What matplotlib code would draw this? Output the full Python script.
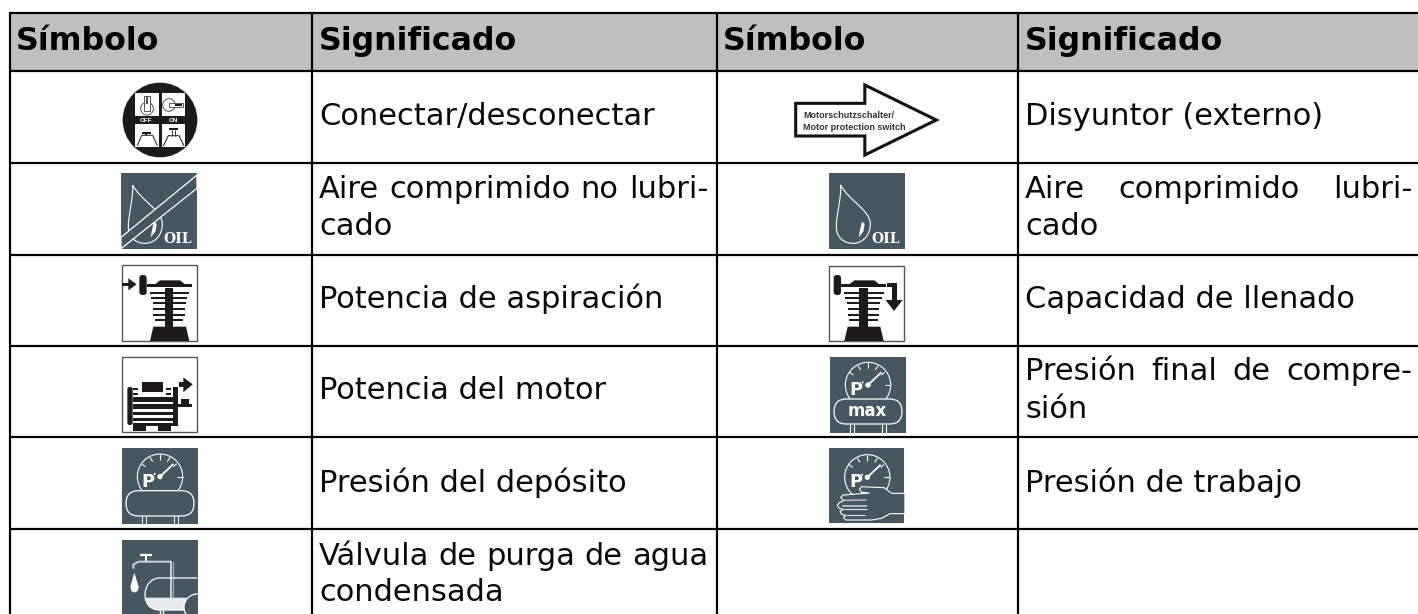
import matplotlib
matplotlib.use("Agg")
import matplotlib.pyplot as plt
from matplotlib.patches import Polygon, Rectangle, Circle, PathPatch, FancyBboxPatch
from matplotlib.path import Path
from matplotlib.transforms import Affine2D

# ---- content ----
headers = ["Símbolo", "Significado", "Símbolo", "Significado"]
col2_rows = [
    ["Conectar/desconectar"],
    ["Aire comprimido no lubri-", "cado"],
    ["Potencia de aspiración"],
    ["Potencia del motor"],
    ["Presión del depósito"],
    ["Válvula de purga de agua", "condensada"],
]
col4_rows = [
    ["Disyuntor (externo)"],
    ["Aire comprimido lubri-", "cado"],
    ["Capacidad de llenado"],
    ["Presión final de compre-", "sión"],
    ["Presión de trabajo"],
    [],
]
arrow_lines = ["Motorschutzschalter/", "Motor protection switch"]

# ---- layout (pixels) ----
W, H = 1418, 614
col_lines = [10, 311.5, 717, 1018]
row_lines = [13, 70.5, 163, 254.7, 345.8, 437.3, 529]
hdr_x = [16, 319, 723, 1025]
hdr_base = 50
base_y = [[125], [198, 235], [308], [399], [491.5], [565, 601]]
base_y4 = [[125], [198, 235], [308], [380, 418], [491.5], []]
just_right = [708, 1412]
SLATE = "#465762"
HEAD = "#BFBFBF"
DARK = "#1c1a1b"
FS, FSH = 22.0, 22.8

fig = plt.figure(figsize=(W / 100, H / 100), dpi=100)
ax = fig.add_axes([0, 0, 1, 1])
ax.set_xlim(0, W)
ax.set_ylim(H, 0)
ax.axis("off")
LW = 2.2 * 0.72


def T(ox, oy, sx=3.0, sy=3.0):
    return Affine2D().scale(1 / sx, 1 / sy).translate(ox, oy) + ax.transData


def poly(tr, pts, fc="none", ec="none", lw=0.0, z=3):
    ax.add_patch(Polygon(pts, closed=True, fc=fc, ec=ec, lw=lw, transform=tr, zorder=z))


def rect(tr, x0, y0, x1, y1, fc=DARK, ec="none", lw=0.0, z=3):
    p = Rectangle((x0, y0), x1 - x0, y1 - y0, fc=fc, ec=ec, lw=lw, transform=tr, zorder=z)
    ax.add_patch(p)
    return p


def line(tr, xs, ys, c="white", lw=0.8, z=4):
    ax.plot(xs, ys, color=c, lw=lw, transform=tr, zorder=z, solid_capstyle="butt")


def circ(tr, x, y, r, fc="none", ec="white", lw=0.8, z=4):
    p = Circle((x, y), r, fc=fc, ec=ec, lw=lw, transform=tr, zorder=z)
    ax.add_patch(p)
    return p


def txt(tr, x, y, s, size, color="white", weight="bold", fam="DejaVu Sans", ha="center", z=6):
    ax.text(x, y, s, transform=tr, fontsize=size, color=color, fontweight=weight,
            family=fam, ha=ha, va="baseline", zorder=z)


def rounded(tr, x0, y0, x1, y1, r, fc=DARK, ec="none", lw=0.0, z=3):
    ax.add_patch(FancyBboxPatch((x0, y0), x1 - x0, y1 - y0, boxstyle=f"round,pad=0,rounding_size={r}",
                                fc=fc, ec=ec, lw=lw, transform=tr, zorder=z))


# ---- table ----
ax.add_patch(Rectangle((col_lines[0], row_lines[0]), W - col_lines[0], row_lines[1] - row_lines[0],
                       fc=HEAD, ec="none", zorder=1))
for y in row_lines:
    ax.plot([col_lines[0] - 1, W], [y, y], color="black", lw=LW, zorder=2, solid_capstyle="butt")
for x in col_lines:
    ax.plot([x, x], [row_lines[0] - 1, H], color="black", lw=LW, zorder=2, solid_capstyle="butt")

for x, s in zip(hdr_x, headers):
    ax.text(x, hdr_base, s, fontsize=FSH, fontweight="bold", family="DejaVu Sans",
            ha="left", va="baseline", color="black")

fig.canvas.draw()
rend = fig.canvas.get_renderer()


def text_width(s):
    t = ax.text(0, 0, s, fontsize=FS, family="DejaVu Sans")
    w = t.get_window_extent(rend).width
    t.remove()
    return w


def put_lines(x, right, lines, bases):
    for i, (s, y) in enumerate(zip(lines, bases)):
        words = s.split(" ")
        if len(lines) > 1 and i == 0 and len(words) > 1:
            widths = [text_width(w) for w in words]
            gap = (right - x - sum(widths)) / (len(words) - 1)
            cx = x
            for w, wd in zip(words, widths):
                ax.text(cx, y, w, fontsize=FS, family="DejaVu Sans", ha="left", va="baseline", color="#0a0a0a")
                cx += wd + gap
        else:
            ax.text(x, y, s, fontsize=FS, family="DejaVu Sans", ha="left", va="baseline", color="#0a0a0a")


for lines, bases in zip(col2_rows, base_y):
    put_lines(hdr_x[1], just_right[0], lines, bases)
for lines, bases in zip(col4_rows, base_y4):
    put_lines(hdr_x[3], just_right[1], lines, bases)


# ---- icons ----
def icon_switch():
    tr = T(0, 0)
    circ(tr, 480, 360, 112, fc=DARK, ec="none", lw=0, z=3)
    for x0, y0, x1, y1 in [(406, 279, 476, 349), (485, 279, 555, 349), (406, 373, 476, 441), (485, 373, 555, 441)]:
        rect(tr, x0, y0, x1, y1, fc="white", z=4)
    G = "#555555"
    circ(tr, 441, 326, 19, ec=G, lw=0.7, z=5)
    rect(tr, 433, 287, 449, 332, fc="white", ec=G, lw=0.7, z=6)
    rect(tr, 437, 291, 445, 312, fc=G, z=7)
    circ(tr, 507, 315, 19, ec=G, lw=0.7, z=5)
    rect(tr, 507, 308, 549, 322, fc="white", ec=G, lw=0.7, z=6)
    rect(tr, 525, 311, 546, 318, fc=DARK, z=7)
    rect(tr, 425, 397, 452, 402, fc=DARK, z=5)
    rect(tr, 436, 402, 441, 406, fc=DARK, z=5)
    line(tr, [412, 425, 458, 472], [437, 406, 406, 437], c="#333333", lw=0.8, z=5)
    rect(tr, 507, 384, 534, 389, fc=DARK, z=5)
    line(tr, [515, 515], [389, 407], c="#333333", lw=0.7, z=5)
    line(tr, [526, 526], [389, 407], c="#333333", lw=0.7, z=5)
    line(tr, [490, 505, 537, 552], [438, 407, 407, 438], c="#333333", lw=0.8, z=5)
    txt(tr, 437, 367, "OFF", 4.6, fam="Liberation Sans")
    txt(tr, 519, 367, "ON", 4.6, fam="Liberation Sans")


DROP = Path(
    [(398, 555), (400, 600), (385, 640), (385, 680), (385, 715), (410, 730), (435, 730),
     (465, 730), (487, 705), (487, 672), (487, 630), (420, 600), (398, 555)],
    [Path.MOVETO] + [Path.CURVE4] * 12,
)


def oil_drop(tr):
    ax.add_patch(PathPatch(DROP, fc="none", ec="white", lw=0.8, transform=tr, zorder=4))
    poly(tr, [(462, 665), (456, 690), (452, 712), (466, 695), (470, 672)], fc="white", z=4)
    txt(tr, 533, 728, "OIL", 10, fam="DejaVu Serif")


def icon_oil_no():
    tr = T(0, 0)
    rect(tr, 363, 519, 591, 747, fc=SLATE)
    oil_drop(tr)
    poly(tr, [(363, 712), (591, 525), (591, 565), (363, 746)], fc=SLATE, ec="white", lw=0.9, z=5)
    rect(tr, 592, 515, 598, 750, fc="white", z=5)


def icon_oil():
    tr = T(708, 0)
    rect(tr, 363, 519, 591, 747, fc=SLATE)
    oil_drop(tr)


def piston(tr, dx):
    rounded(tr, 88 + dx, 60, 110 + dx, 120, 9)
    rect(tr, 110 + dx, 87, 245 + dx, 96, fc=DARK)
    poly(tr, [(135 + dx, 88), (150 + dx, 76), (210 + dx, 76), (225 + dx, 88)], fc=DARK)
    for y, a, b in [(113, 120, 238), (128, 122, 232), (145, 128, 228), (162, 130, 225), (179, 130, 225), (196, 135, 220)]:
        rect(tr, a + dx, y - 3, b + dx, y + 3, fc=DARK)
    rect(tr, 165 + dx, 100, 190 + dx, 220, fc=DARK)
    poly(tr, [(120 + dx, 258), (130 + dx, 215), (228 + dx, 215), (238 + dx, 258)], fc=DARK)


def icon_suction():
    tr = T(110, 255)
    rect(tr, 37, 30, 262, 258, fc="white", ec="#555555", lw=1.0, z=2.5)
    piston(tr, 0)
    rect(tr, 37, 83, 58, 93, fc=DARK)
    poly(tr, [(55, 70), (80, 88), (55, 106)], fc=DARK)


def icon_fill():
    tr = T(810, 255)
    rect(tr, 58, 33, 282, 258, fc="white", ec="#555555", lw=1.0, z=2.5)
    piston(tr, -17)
    rect(tr, 232, 85, 261, 95, fc=DARK)
    rect(tr, 245, 85, 261, 137, fc=DARK)
    poly(tr, [(227, 135), (278, 135), (252, 168)], fc=DARK)


def icon_motor():
    tr = T(110, 345)
    rect(tr, 37, 37, 262, 260, fc="white", ec="#555555", lw=1.0, z=2.5)
    rounded(tr, 52, 126, 68, 240, 7)
    rect(tr, 97, 112, 158, 140)
    for a, b in [(128, 135), (143, 150)]:
        rect(tr, 70, a, 84, b)
        rect(tr, 168, a, 182, b)
    for a, b in [(155, 170), (178, 193), (201, 211), (219, 228), (235, 242)]:
        rect(tr, 68, a, 192, b)
    rect(tr, 189, 126, 203, 242)
    rect(tr, 203, 176, 247, 187)
    rect(tr, 212, 163, 236, 177)
    rect(tr, 207, 110, 222, 125)
    poly(tr, [(220, 97), (248, 118), (220, 142)], fc=DARK)
    rect(tr, 70, 243, 108, 258)
    rect(tr, 143, 243, 182, 258)


def gauge(tr, cx, cy, px=-35, py=30):
    circ(tr, cx, cy, 68, z=4)
    for (a, b, c, d) in [(0, -68, 0, -50), (-30, -58, -22, -45), (30, -58, 22, -45),
                         (-55, -38, -44, -30), (50, -38, 40, -30), (68, 0, 50, 0)]:
        line(tr, [cx + a, cx + c], [cy + b, cy + d])
    line(tr, [cx, cx + 40], [cy, cy - 38], lw=1.3)
    circ(tr, cx, cy, 8, fc="white", ec="none", lw=0, z=5)
    circ(tr, cx - 16, cy - 8, 3, fc="white", ec="none", lw=0, z=5)
    txt(tr, cx + px, cy + py, "P", 13)


def stadium(tr, x0, y0, x1, y1, z=5):
    rounded(tr, x0, y0, x1, y1, (y1 - y0) / 2, fc=SLATE, ec="white", lw=0.9, z=z)


def legs(tr, top, bottom):
    for x in [425, 437, 523, 535]:
        line(tr, [x, x], [top, bottom])


def icon_tank():
    tr = T(0, 300)
    rect(tr, 366, 444, 594, 672, fc=SLATE)
    gauge(tr, 480, 530)
    stadium(tr, 378, 572, 582, 648)
    legs(tr, 648, 672)


def icon_max():
    tr = T(708, 209)
    rect(tr, 366, 444, 594, 672, fc=SLATE)
    gauge(tr, 480, 528)
    stadium(tr, 378, 570, 582, 645)
    legs(tr, 645, 672)
    txt(tr, 478, 621, "max", 12)


def icon_hand():
    tr = T(810, 440)
    rect(tr, 57, 25, 283, 250, fc=SLATE)
    gauge(tr, 172, 112, px=-34, py=30)
    pts = [(283, 160), (245, 160), (222, 143), (155, 140), (148, 148), (155, 157), (178, 159), (100, 165),
           (92, 172), (100, 182), (88, 188), (82, 196), (88, 205), (100, 208), (90, 214), (95, 223), (108, 226),
           (100, 232), (108, 240), (185, 240), (215, 235), (240, 221), (283, 221)]
    ax.add_patch(Polygon(pts, closed=False, fc=SLATE, ec="white", lw=0.8, transform=tr, zorder=5))
    line(tr, [95, 172], [197, 197], c="#b9c0c4", lw=1.3, z=6)
    line(tr, [100, 170], [181, 180], c="#dfe3e5", lw=0.8, z=6)
    line(tr, [100, 170], [208, 208], c="#dfe3e5", lw=0.8, z=6)
    line(tr, [108, 165], [226, 226], c="#dfe3e5", lw=0.8, z=6)


def icon_valve():
    tr = T(110, 530)
    bg = rect(tr, 37, 30, 263, 262, fc=SLATE)
    line(tr, [90, 125], [74, 74], lw=1.6)
    line(tr, [107, 107], [74, 92], lw=1.4)
    line(tr, [70, 70, 85, 183, 183], [116, 104, 95, 95, 205], c="#cfd4d7", lw=1.4)
    line(tr, [190, 190], [200, 93], c="#aab2b7", lw=0.9)
    poly(tr, [(73, 128), (61, 170), (64, 183), (73, 188), (83, 183), (86, 170)], fc="white", z=4)
    arc = Path([(262, 144), (150, 144), (120, 144), (105, 170), (105, 195), (105, 225), (125, 240), (150, 240),
                (225, 240)],
               [Path.MOVETO, Path.LINETO, Path.CURVE4, Path.CURVE4, Path.CURVE4, Path.CURVE4, Path.CURVE4,
                Path.CURVE4, Path.LINETO])
    poly(tr, [(106, 203), (230, 203), (230, 240), (135, 240), (115, 228)], fc="#e9ecee", z=3.5)
    ax.add_patch(PathPatch(arc, fc="none", ec="white", lw=0.9, transform=tr, zorder=4))
    c = circ(tr, 262, 232, 40, fc=SLATE, ec="white", lw=0.9, z=5)
    c.set_clip_path(bg)
    line(tr, [150, 150], [240, 262], lw=1.0)
    line(tr, [160, 160], [240, 262], lw=1.0)


def icon_arrow():
    tr = T(700, 0, sx=2.184, sy=3.0)
    poly(tr, [(209, 310), (360, 310), (360, 255), (516, 360), (360, 465), (360, 408), (209, 408)],
         fc="white", ec="#111111", lw=2.2, z=3)
    txt(tr, 226, 354, arrow_lines[0], 6.5, color="#333333", fam="Liberation Sans", ha="left")
    txt(tr, 226, 391, arrow_lines[1], 6.5, color="#333333", fam="Liberation Sans", ha="left")


for fn in (icon_switch, icon_oil_no, icon_suction, icon_motor, icon_tank, icon_valve,
           icon_arrow, icon_oil, icon_fill, icon_max, icon_hand):
    fn()

fig.savefig("out.png", dpi=100, facecolor="white")
